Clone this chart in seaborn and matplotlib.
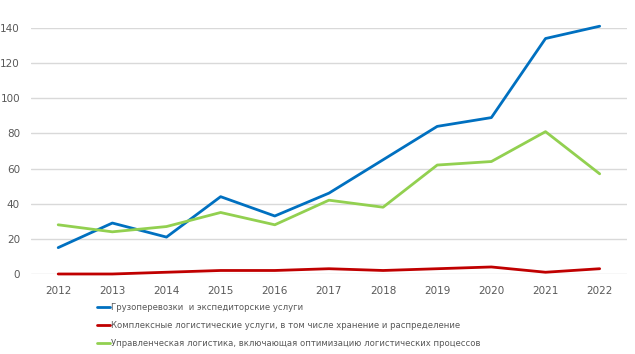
import pandas as pd
import seaborn as sns
import matplotlib.pyplot as plt

# Values
years = [2012, 2013, 2014, 2015, 2016, 2017, 2018, 2019, 2020, 2021, 2022]
freight = [15, 29, 21, 44, 33, 46, 65, 84, 89, 134, 141]
complex_services = [0, 0, 1, 2, 2, 3, 2, 3, 4, 1, 3]
management = [28, 24, 27, 35, 28, 42, 38, 62, 64, 81, 57]

labels = [
    'Грузоперевозки  и экспедиторские услуги',
    'Комплексные логистические услуги, в том числе хранение и распределение',
    'Управленческая логистика, включающая оптимизацию логистических процессов',
]
colors = ['#0070C0', '#C00000', '#92D050']

df = pd.DataFrame({'year': years, labels[0]: freight,
                   labels[1]: complex_services, labels[2]: management})
long_df = df.melt(id_vars='year', var_name='series', value_name='value')

sns.set_style('white')
plt.rcParams['font.family'] = ['DejaVu Sans']

fig = plt.figure(figsize=(6.35, 3.54), dpi=100)
ax = fig.add_axes([0.049, 0.226, 0.938, 0.695])

sns.lineplot(data=long_df, x='year', y='value', hue='series', hue_order=labels,
             palette=colors, linewidth=2.0, ax=ax, legend=False, clip_on=False)

ax.set_xlim(2011.5, 2022.5)
ax.set_ylim(0, 140)
ax.set_xticks(years)
ax.set_yticks(range(0, 141, 20))
ax.tick_params(axis='both', length=0, labelsize=7.5, colors='#595959')
ax.tick_params(axis='x', pad=9)
ax.tick_params(axis='y', pad=8)
ax.grid(axis='y', color='#D9D9D9', linewidth=1)
ax.set_axisbelow(True)
ax.set_xlabel('')
ax.set_ylabel('')
for s in ax.spines.values():
    s.set_visible(False)

# legend below the plot, one entry per row
handles = [plt.Line2D([], [], color=c, linewidth=2.0) for c in colors]
leg = fig.legend(handles, labels, loc='upper left',
                 bbox_to_anchor=(0.148, 1 - 300 / 354),
                 bbox_transform=fig.transFigure, frameon=False, fontsize=6.1,
                 handlelength=1.5, handletextpad=0.1, labelspacing=1.05,
                 borderaxespad=0)
for t in leg.get_texts():
    t.set_color('#595959')

fig.savefig('out.png', dpi=100)
